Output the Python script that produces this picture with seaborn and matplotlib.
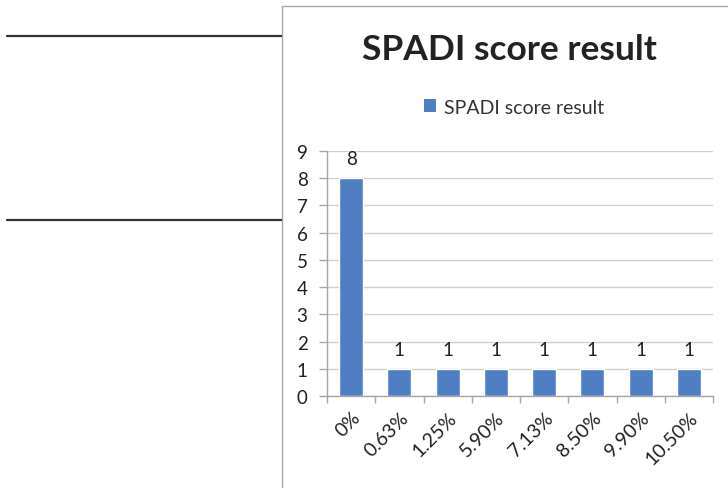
import numpy as np
import matplotlib
matplotlib.use("Agg")
import matplotlib.pyplot as plt
import seaborn as sns
from matplotlib.patches import Patch
from matplotlib.lines import Line2D

categories = ["0%", "0.63%", "1.25%", "5.90%", "7.13%", "8.50%", "9.90%", "10.50%"]
counts = [8, 1, 1, 1, 1, 1, 1, 1]
series_name = "SPADI score result"
title = "SPADI score result"
y_ticks = list(range(0, 10))

sns.set_theme(style="white")
plt.rcParams['font.family'] = ['Lato', 'DejaVu Sans']

W, H = 728, 489
fig = plt.figure(figsize=(W / 100, H / 100), dpi=100)
fig.patch.set_facecolor("white")

def fx(x):
    return x / W

def fy(y):
    return 1 - y / H

# outer decoration lines
fig.add_artist(Line2D([fx(7), fx(282)], [fy(37), fy(37)], color="#333333", lw=1.6))
fig.add_artist(Line2D([fx(7), fx(282)], [fy(221), fy(221)], color="#333333", lw=1.6))
fig.add_artist(Line2D([fx(282), fx(282)], [fy(7), fy(489)], color="#a6a6a6", lw=1.0))
fig.add_artist(Line2D([fx(282), fx(728)], [fy(7), fy(7)], color="#a6a6a6", lw=1.0))

ax = fig.add_axes([fx(327), fy(397), fx(713) - fx(327), fy(152) - fy(397)])
bar_color = "#4F7EC4"
sns.barplot(x=categories, y=counts, color=bar_color, width=0.5, ax=ax, saturation=1)

ax.set_xlim(-0.5, len(categories) - 0.5)
ax.set_ylim(0, 9)
ax.set_yticks(y_ticks)
ax.set_yticklabels([str(t) for t in y_ticks], fontsize=13.5, color="#222222")
ax.set_xticks(range(len(categories)))
ax.set_xticklabels(categories, rotation=45, ha="right", rotation_mode="anchor",
                   fontsize=14, color="#222222")
ax.set_xticks(np.arange(-0.5, len(categories), 1), minor=True)
ax.tick_params(axis="x", which="major", length=0, pad=9)
ax.tick_params(axis="x", which="minor", length=5, color="#a6a6a6", width=1, direction="out", bottom=True)
ax.tick_params(axis="y", length=6, color="#a6a6a6", width=1, direction="out", left=True, pad=8)
ax.yaxis.grid(True, color="#d0d0d0", lw=1)
ax.set_axisbelow(True)
for s in ["top", "right"]:
    ax.spines[s].set_visible(False)
for s in ["left", "bottom"]:
    ax.spines[s].set_color("#a6a6a6")
    ax.spines[s].set_linewidth(1)
ax.set_xlabel("")
ax.set_ylabel("")
ax.set_facecolor("white")

ax.bar_label(ax.containers[0], labels=[str(v) for v in counts], padding=8,
             fontsize=13.5, color="#222222")

fig.text(fx(509), fy(50), title, ha="center", va="center", fontsize=25.5,
         fontweight="bold", color="#222222")
fig.legend(handles=[Patch(facecolor=bar_color, edgecolor="none", label=series_name)],
           loc="center", bbox_to_anchor=(fx(514), fy(108)), frameon=False,
           fontsize=14, handlelength=0.6, handleheight=0.6, handletextpad=0.4,
           labelcolor="#333333")

fig.savefig("out.png", dpi=100, facecolor="white")
